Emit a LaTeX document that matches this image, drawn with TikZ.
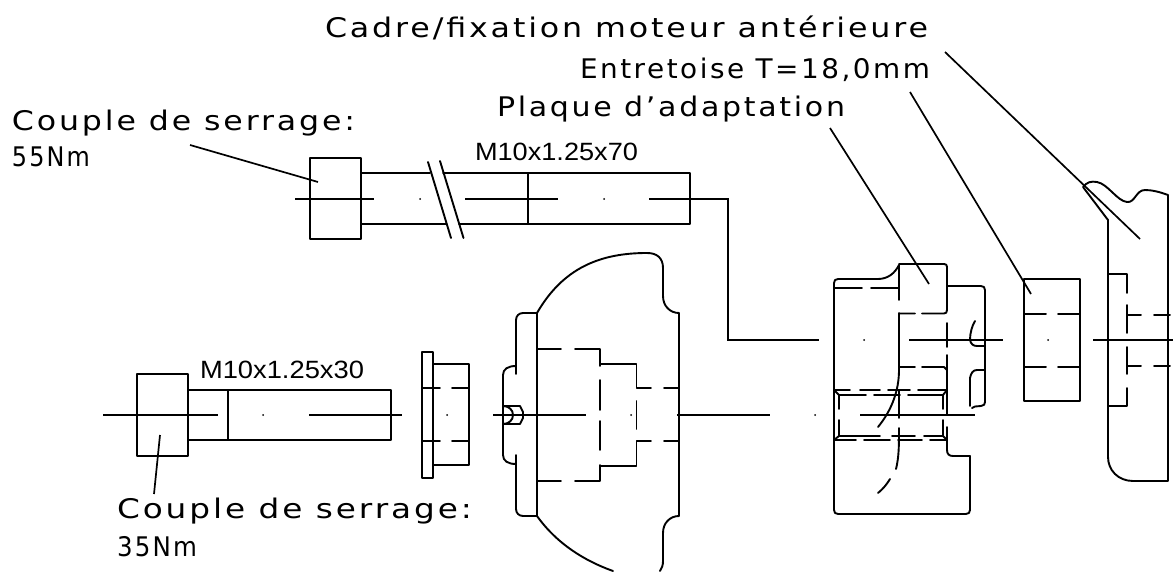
\documentclass[tikz,border=0pt]{standalone}
\usepackage{fontspec}
\setmainfont[LetterSpace=9]{DejaVu Sans}
\newfontfamily\dimfont{Liberation Sans}
\tikzset{
  part/.style={line width=1.9pt,line cap=round,line join=round,black},
  centre/.style={line width=1.9pt,black},
  leader/.style={line width=1.7pt,black},
  lab/.style={anchor=base west,inner sep=0pt,outer sep=0pt,font=\fontsize{27}{27}\selectfont},
  dimlab/.style={anchor=base west,inner sep=0pt,outer sep=0pt,font=\dimfont\fontsize{25}{25}\selectfont},
}
\newcommand{\wlab}[6][lab]{\node[#1] (#2) at (#3,#4) {\resizebox{#5pt}{\height}{#6}};}
\newcommand{\cdotmark}[2]{\fill (#1,#2) circle (1pt);}
\begin{document}
\begin{tikzpicture}[x=1pt,y=-1pt]
\useasboundingbox (0,0) rectangle (1173,572);
% labels
\wlab{t1}{325}{38}{603}{Cadre/fixation moteur antérieure}
\wlab{t2}{580}{79}{350}{Entretoise T=18,0mm}
\wlab{t3}{497}{117}{348}{Plaque d’adaptation}
\wlab{t4}{12}{131}{343}{Couple de serrage:}
\wlab{t5}{12}{167}{78}{55Nm}
\wlab[dimlab]{t6}{475}{161}{163}{M10x1.25x70}
\wlab[dimlab]{t7}{200}{378}{164}{M10x1.25x30}
\wlab{t8}{117}{518}{355}{Couple de serrage:}
\wlab{t9}{117}{556}{80}{35Nm}
% leaders
\coordinate (l1a) at (945,52); \coordinate (l1b) at (1140,239);
\coordinate (l2a) at (910,92); \coordinate (l2b) at (1031,294);
\coordinate (l3a) at (830,128); \coordinate (l3b) at (929,284);
\coordinate (l4a) at (190,145); \coordinate (l4b) at (318,182);
\coordinate (l5a) at (160,435); \coordinate (l5b) at (154,494);
\foreach \a/\b in {l1a/l1b,l2a/l2b,l3a/l3b,l4a/l4b,l5a/l5b} \draw[leader] (\a) -- (\b);
% upper bolt
\draw[part] (310,158) rectangle (361,239);
\draw[part] (361,173) -- (430,173) (443,173) -- (690,173) -- (690,224) -- (459,224) (446,224) -- (361,224);
\draw[part] (528,173) -- (528,224);
\draw[part] (428,162) -- (451,238) (440,161) -- (463.5,238);
\draw[centre] (295,199) -- (374,199) (465,199) -- (558,199) (649,199) -- (728,199) -- (728,340) -- (819,340);
\cdotmark{420}{199} \cdotmark{604}{199}
% lower bolt
\draw[part] (137,374) rectangle (188,456);
\draw[part] (188,390) -- (391,390) -- (391,440) -- (188,440);
\draw[part] (228,390) -- (228,440);
\draw[centre] (103,415) -- (218,415) (309,415) -- (402,415);
\cdotmark{263}{415}
% washer
\draw[part] (422,352) rectangle (433,478);
\draw[part] (433,364) -- (469,364) -- (469,465) -- (433,465);
\draw[part] (422,388) -- (440,388) (452,388) -- (469,388) (422,441) -- (440,441) (452,441) -- (469,441);
\cdotmark{447}{415}
% hub
\draw[part] (537,313) .. controls (563,268) and (600,253) .. (647,253)
  .. controls (657,253) and (663,258) .. (663,268) -- (663,296)
  .. controls (663,306) and (670,313) .. (679,313) -- (679,516)
  .. controls (670,516) and (663,523) .. (663,533) -- (663,561)
  .. controls (663,565) and (662,568) .. (660,571);
\draw[part] (537,516) .. controls (557,544) and (585,561) .. (613,571);
\draw[line width=2.2pt,line cap=round] (537,313) -- (537,516);
\draw[part] (537,313) -- (523,313) .. controls (519,313) and (516,316) .. (516,320) -- (516,374);
\draw[part] (516,366) .. controls (508,366) and (503,369) .. (503,375) -- (503,455) .. controls (503,461) and (508,464) .. (516,464);
\draw[part] (516,455) -- (516,509) .. controls (516,513) and (519,516) .. (523,516) -- (537,516);
\draw[part] (503,406) -- (520,406) -- (523,412) -- (523,418) -- (520,424) -- (503,424);
\draw[part] (503,406) .. controls (509,406) and (513,410) .. (513,415) .. controls (513,420) and (509,424) .. (503,424);
\draw[part] (537,349) -- (561,349) (575,349) -- (600,349) -- (600,366);
\draw[part] (600,364) -- (636.5,364) -- (636.5,388) -- (651,388) (664,388) -- (679,388);
\draw[part] (600,380) -- (600,410) (600,421) -- (600,450);
\draw[part] (600,465) -- (600,481) -- (575,481) (561,481) -- (537,481);
\draw[part] (600,466) -- (636.5,466) -- (636.5,441) -- (651,441) (664,441) -- (679,441);
\draw[part] (636.5,401) -- (636.5,429);
\draw[centre] (493,415) -- (586,415) (677,415) -- (770,415);
\cdotmark{631}{415} \cdotmark{815}{415}
% main block
\draw[part] (878,279) -- (838,279) .. controls (835.5,279) and (834,280.5) .. (834,283) -- (834,510) .. controls (834,512.5) and (835.5,514) .. (838,514) -- (966,514) .. controls (968.5,514) and (970,512.5) .. (970,510) -- (970,456);
\draw[part] (972,408) .. controls (973,406.5) and (974,406.5) .. (975,406.5) -- (981,406) .. controls (984,406) and (985,404) .. (985,402) -- (985,290) .. controls (985,287.5) and (983.5,286) .. (981,286) -- (947,286);
\draw[part] (878,279) .. controls (888,279) and (895,273) .. (899,265);
\draw[part] (899,264) -- (944,264) .. controls (946,264) and (947,265) .. (947,267) -- (947,310) .. controls (947,312.5) and (946,313.5) .. (944,313.5) -- (922,313.5) (915,313.5) -- (899,313.5);
\draw[part] (834,288) -- (862,288) (871,288) -- (899,288);
\draw[part] (899,265) -- (899,300) (899,313) -- (899,370);
\draw[part] (899,367) -- (915,367) (922,367) -- (944,367) -- (947,370);
\draw[part] (947,323) -- (947,347) (947,355) -- (947,380);
\draw[part] (975,321) .. controls (972,326) and (970,333) .. (970,340) .. controls (971,344) and (973,346) .. (977,346) -- (985,346);
\draw[part] (985,370) -- (977,370) .. controls (973,370) and (971,373) .. (970,378) -- (970,406);
\draw[part] (947,427) -- (947,450) .. controls (947,454) and (949,456) .. (953,456) -- (970,456);
% threaded bore
\draw[part] (834,390) -- (850,390) (860,390) -- (880,390) (888,390) -- (910,390) (918,390) -- (947,390);
\draw[part] (834,440) -- (856,440) (864,440) -- (890,440) (898,440) -- (922,440) (930,440) -- (947,440);
\draw[part] (839,395) -- (866,395) (874,395) -- (900,395) (908,395) -- (943,395);
\draw[part] (839,436) -- (880,436) (892,436) -- (915,436) (924,436) -- (943,436);
\draw[part] (834,390) -- (839,395) (947,390) -- (943,395) (834,440) -- (839,436) (947,440) -- (943,436);
\draw[part] (839,395) -- (839,409) (839,420) -- (839,436) (943,395) -- (943,409) (943,420) -- (943,436);
\draw[part] (947,380) -- (947,415);
\draw[part] (899,390) -- (899,418);
\draw[part] (899,370) .. controls (899,390) and (892,410) .. (878,427);
\draw[part] (899,428) .. controls (899,445) and (899,457) .. (896,469);
\draw[part] (890,479) .. controls (887,484) and (883,489) .. (878,493);
\draw[centre] (860,415) -- (975,415) (909,340) -- (1003,340);
\cdotmark{864}{340}
% spacer
\draw[part] (1024,279) rectangle (1080,401);
\draw[part] (1024,314) -- (1046,314) (1058,314) -- (1080,314) (1024,367) -- (1046,367) (1058,367) -- (1080,367);
\cdotmark{1048}{340}
% frame
\draw[part] (1108,220) -- (1083,187) .. controls (1087,182) and (1091,181) .. (1097,182) .. controls (1108,184) and (1117,201) .. (1127,202) .. controls (1135,203) and (1136,190) .. (1145,190) .. controls (1152,190) and (1160,192) .. (1168,195) -- (1168,481) -- (1133,481) .. controls (1118,481) and (1108,470) .. (1108,457) -- cycle;
\draw[part] (1108,274) -- (1127,274) -- (1127,293) (1127,305) -- (1127,333) (1127,347) -- (1127,374) (1127,388) -- (1127,406) -- (1108,406);
\draw[part] (1127,315) -- (1141,315) (1154,315) -- (1170,315) (1127,366) -- (1141,366) (1154,366) -- (1170,366);
\draw[centre] (1093,340) -- (1173,340);
\end{tikzpicture}
\end{document}
